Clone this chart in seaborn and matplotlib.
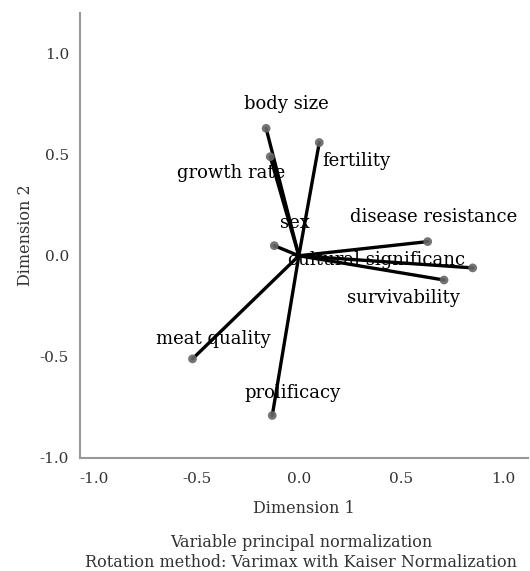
import matplotlib
matplotlib.use("Agg")
import matplotlib.pyplot as plt
import seaborn as sns
import pandas as pd

# --- data: rotated component loadings ---
variables = ["body size", "growth rate", "fertility", "sex", "disease resistance",
             "cultural significanc", "survivability", "meat quality", "prolificacy"]
dim1 = [-0.16, -0.14, 0.10, -0.12, 0.63, 0.85, 0.71, -0.52, -0.13]
dim2 = [0.63, 0.49, 0.56, 0.05, 0.07, -0.06, -0.12, -0.51, -0.79]

# label anchor positions (data units)
label_x = [-0.06, -0.33, 0.28, -0.02, 0.66, 0.38, 0.51, -0.42, -0.03]
label_y = [0.75, 0.41, 0.47, 0.16, 0.19, -0.02, -0.21, -0.41, -0.68]

df = pd.DataFrame({"Variable": variables, "Dim1": dim1, "Dim2": dim2})

sns.set_style("white")
plt.rcParams['font.family'] = ['DejaVu Serif']

fig = plt.figure(figsize=(5.3, 5.71), dpi=100)
ax = fig.add_axes([0.151, 0.198, 0.845, 0.779])

# vectors from origin
for _, row in df.iterrows():
    ax.plot([0, row["Dim1"]], [0, row["Dim2"]], color="black", lw=2.4,
            solid_capstyle="round", zorder=2)

sns.scatterplot(data=df, x="Dim1", y="Dim2", color="#666666", s=40,
                edgecolor="none", alpha=0.9, ax=ax, zorder=3, legend=False)

for name, lx, ly in zip(variables, label_x, label_y):
    ax.text(lx, ly, name, ha="center", va="center", fontsize=13, color="black", zorder=4)

ax.set_xlim(-1.07, 1.12)
ax.set_ylim(-0.985, 1.2)
ax.set_xticks([-1.0, -0.5, 0.0, 0.5, 1.0])
ax.set_yticks([-1.0, -0.5, 0.0, 0.5, 1.0])
ax.set_xticklabels(["-1.0", "-0.5", "0.0", "0.5", "1.0"])
ax.set_yticklabels(["-1.0", "-0.5", "0.0", "0.5", "1.0"])
ax.tick_params(axis="both", length=0, labelsize=11, colors="#333333")
ax.tick_params(axis="x", pad=10)
ax.tick_params(axis="y", pad=8)

for side in ["top", "right"]:
    ax.spines[side].set_visible(False)
for side in ["left", "bottom"]:
    ax.spines[side].set_color("#999999")
    ax.spines[side].set_linewidth(1.5)

ax.set_xlabel("Dimension 1", fontsize=11.5, color="#333333", labelpad=10)
ax.set_ylabel("Dimension 2", fontsize=11.5, color="#333333", labelpad=4)

fig.text(0.568, 0.032, "Variable principal normalization\nRotation method: Varimax with Kaiser Normalization",
         ha="center", va="center", fontsize=11.5, color="#333333", linespacing=1.25)

fig.savefig("out.png", dpi=100)
